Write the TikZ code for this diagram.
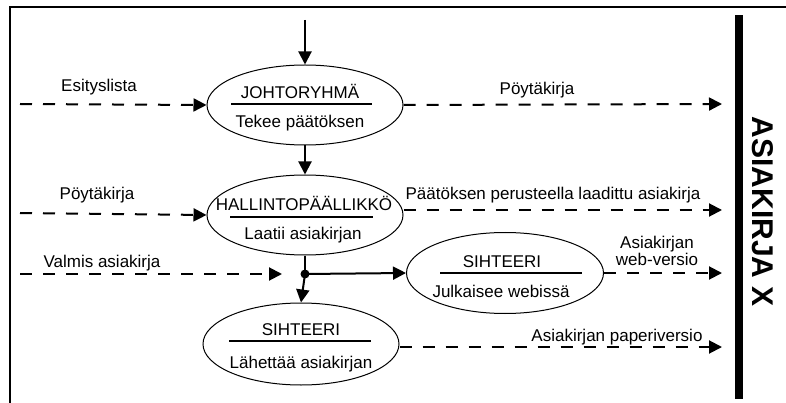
\documentclass[tikz,border=0pt]{standalone}
\usepackage{fontspec}
\setmainfont{Liberation Sans}
\usetikzlibrary{shapes.geometric,arrows.meta}
\begin{document}
\begin{tikzpicture}[x=1pt,y=-1pt,
  txt/.style={anchor=base,inner sep=0pt,font=\fontsize{17}{17}\selectfont},
  proc/.style={ellipse,draw,line width=1pt,minimum width=196pt,minimum height=80pt,inner sep=0pt},
  rule/.style={line width=1.4pt},
  flow/.style={line width=2pt,-{Triangle[length=13pt,width=13pt]}},
  docflow/.style={flow,dash pattern=on 12pt off 11pt}]
\useasboundingbox (0,0) rectangle (786,403);
% frame
\draw[line width=2.5pt] (10,403) -- (10,7) -- (786,7);
% document bar and title
\fill (735,15) rectangle (743,399);
\node[rotate=-90,inner sep=0pt,font=\fontsize{30}{30}\selectfont\bfseries] (doc) at (763,212) {ASIAKIRJA X};

% process ellipses
\node[proc] (J) at (305,105) {};
\node[proc] (H) at (305,215) {};
\node[proc,minimum height=82pt] (S1) at (301,344) {};
\node[proc,minimum width=197pt,minimum height=81pt] (S2) at (505,273) {};

% dividers and texts
\draw[rule] (231,104) -- (372,104);
\node[txt] (Jt) at (300,99) {JOHTORYHMÄ};
\node[txt] (Js) at (300,128) {Tekee päätöksen};

\draw[rule] (230,217) -- (373,217);
\node[txt] (Ht) at (304,211) {HALLINTOPÄÄLLIKKÖ};
\node[txt] (Hs) at (303,240) {Laatii asiakirjan};

\draw[rule] (229,341) -- (371,341);
\node[txt] (S1t) at (301,335) {SIHTEERI};
\node[txt] (S1s) at (301,368) {Lähettää asiakirjan};

\draw[rule] (440,273) -- (582,273);
\node[txt] (S2t) at (502,267) {SIHTEERI};
\node[txt] (S2s) at (501,297) {Julkaisee webissä};

% solid control flow
\coordinate (in) at (305,20);
\fill (305,274) circle (4.5pt);
\coordinate (dot) at (305,274);
\draw[flow] (in) -- (J.north);
\draw[flow] (J.south) -- (H.north);
\draw[line width=2pt] (H.south) -- (dot);
\draw[flow] (dot) -- (S1.north);
\draw[flow] (dot) -- (S2.west);

% document flows
\coordinate (a1) at (20,104);
\coordinate (a2) at (20,213);
\coordinate (a3) at (20,274);
\coordinate (a3e) at (282,274);
\coordinate (b1) at (722,104);
\coordinate (b2) at (722,210);
\coordinate (b3) at (722,273);
\coordinate (b4) at (722,347);
\draw[docflow] (a1) -- (J.west);
\draw[docflow] (a2) -- (H.west);
\draw[docflow] (a3) -- (a3e);
\draw[docflow] (J.east) -- (b1);
\draw[docflow] ([yshift=5pt]H.east) -- (b2);
\draw[docflow] (S2.east) -- (b3);
\draw[docflow] ([yshift=-3pt]S1.east) -- (b4);

% flow labels
\node[txt] (l1) at (99,92) {Esityslista};
\node[txt] (l2) at (97,200) {Pöytäkirja};
\node[txt] (l3) at (102,267) {Valmis asiakirja};
\node[txt] (l4) at (537,95) {Pöytäkirja};
\node[txt] (l5) at (553,200) {Päätöksen perusteella laadittu asiakirja};
\node[txt] (l6) at (657,248) {Asiakirjan};
\node[txt] (l7) at (657,265) {web-versio};
\node[txt] (l8) at (617,341) {Asiakirjan paperiversio};
\end{tikzpicture}
\end{document}
